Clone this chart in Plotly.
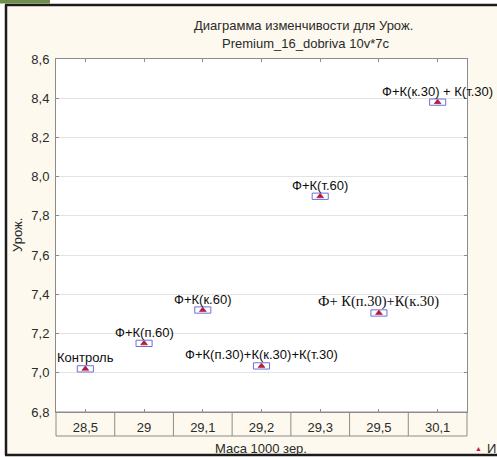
import plotly.graph_objects as go

# Mean yield per grain-mass group, with the fertilizer variant for each point
mass_groups = ["28,5", "29", "29,1", "29,2", "29,3", "29,5", "30,1"]
yield_means = [7.02, 7.15, 7.32, 7.035, 7.90, 7.305, 8.38]
variant_labels = [
    "Контроль",
    "Ф+К(п.60)",
    "Ф+К(к.60)",
    "Ф+К(п.30)+К(к.30)+К(т.30)",
    "Ф+К(т.60)",
    "Ф+ К(п.30)+К(к.30)",
    "Ф+К(к.30) + К(т.30)",
]
label_fonts = ["Liberation Sans"] * 5 + ["Liberation Serif", "Liberation Sans"]
y_ticks = [6.8, 7.0, 7.2, 7.4, 7.6, 7.8, 8.0, 8.2, 8.4, 8.6]

W, H = 497, 457
ML, MR, MT, MB = 56, 30, 59, 45
PW, PH = W - ML - MR, H - MT - MB
BOTTOM = H - MB

def px_x(px):
    return (px - ML) / PW

def px_y(py):
    return (BOTTOM - py) / PH

CREAM = "#fdf9ee"
GRID = "#e3e3e3"
AXIS = "#8c8c8c"
TXT = "#2a2a2a"
BOX = "#6f6fd8"
MARK = "#c3173b"

fig = go.Figure()
fig.add_trace(go.Scatter(
    x=list(range(len(mass_groups))), y=yield_means, mode="markers",
    marker=dict(symbol="triangle-up", size=6, color=MARK,
                line=dict(color="#8a1028", width=0.5)),
    showlegend=False, cliponaxis=False,
))

shapes = []
# white outside the dark frame
shapes.append(dict(type="rect", xref="paper", yref="paper", x0=px_x(0), x1=px_x(5),
                   y0=px_y(H), y1=px_y(0), fillcolor="white", line_width=0, layer="below"))
shapes.append(dict(type="rect", xref="paper", yref="paper", x0=px_x(0), x1=px_x(W),
                   y0=px_y(4), y1=px_y(0), fillcolor="white", line_width=0, layer="below"))
shapes.append(dict(type="rect", xref="paper", yref="paper", x0=px_x(0), x1=px_x(W),
                   y0=px_y(H), y1=px_y(455.5), fillcolor="white", line_width=0, layer="below"))
# green tab at top left
shapes.append(dict(type="rect", xref="paper", yref="paper", x0=px_x(0), x1=px_x(50),
                   y0=px_y(3.5), y1=px_y(0), fillcolor="#6f8e4c", line_width=0, layer="below"))
# dark frame
for (x0, y0, x1, y1) in [(5, 5, W, 5), (6, 5, 6, 455), (5, 455, W, 455)]:
    shapes.append(dict(type="line", xref="paper", yref="paper",
                       x0=px_x(x0), x1=px_x(x1), y0=px_y(y0), y1=px_y(y1),
                       line=dict(color="#1c1c1c", width=2.5)))
# category table under the plot
shapes.append(dict(type="rect", xref="paper", yref="paper", x0=0, x1=1,
                   y0=px_y(436), y1=0, line=dict(color=AXIS, width=1)))
for i in range(len(mass_groups) - 1):
    shapes.append(dict(type="line", xref="x", yref="paper", x0=i + 0.5, x1=i + 0.5,
                       y0=px_y(436), y1=0, line=dict(color=AXIS, width=1)))
# mean boxes
for i, v in enumerate(yield_means):
    shapes.append(dict(type="rect", xref="x", yref="y", x0=i - 0.137, x1=i + 0.137,
                       y0=v - 0.016, y1=v + 0.016, line=dict(color=BOX, width=1),
                       fillcolor="rgba(0,0,0,0)", layer="above"))

annotations = []
for i, (v, lab, fnt) in enumerate(zip(yield_means, variant_labels, label_fonts)):
    annotations.append(dict(x=i, y=v, xref="x", yref="y", text=lab,
                            xanchor="center", yanchor="middle",
                            showarrow=False, yshift=11,
                            font=dict(family=fnt, size=13 if fnt.endswith("Sans") else 14.5,
                                      color="#0d0d0d")))

def note(px, py, text, size=13, color=TXT, **kw):
    d = dict(x=px_x(px), y=px_y(py), xref="paper", yref="paper", text=text,
             showarrow=False, xanchor="center", yanchor="middle",
             font=dict(size=size, color=color))
    d.update(kw)
    return d

annotations += [
    note(303, 25, "Диаграмма изменчивости для Урож."),
    note(305, 43, "Premium_16_dobriva 10v*7c"),
    note(261, 448, "Маса 1000 зер."),
    note(17, 235, "Урож.", textangle=-90),
    note(478, 448, "▲", size=7, color=MARK),
    note(485, 448, "И", xanchor="left"),
]

fig.update_layout(
    width=W, height=H,
    margin=dict(l=ML, r=MR, t=MT, b=MB),
    paper_bgcolor=CREAM, plot_bgcolor="white",
    separators=", ",
    font=dict(family="Liberation Sans", size=13, color=TXT),
    shapes=shapes, annotations=annotations,
    xaxis=dict(range=[-0.5, len(mass_groups) - 0.5],
               tickvals=list(range(len(mass_groups))), ticktext=mass_groups,
               showline=True, linecolor=AXIS, linewidth=1, mirror="ticks",
               ticks="inside", ticklen=3, tickcolor=AXIS, showgrid=False, zeroline=False,
               ticklabelstandoff=3, tickfont=dict(size=13, color=TXT)),
    yaxis=dict(range=[6.8, 8.6], tickvals=y_ticks, tickformat=".1f",
               showline=True, linecolor=AXIS, linewidth=1, mirror="ticks",
               ticks="inside", ticklen=3, tickcolor=AXIS,
               showgrid=True, gridcolor=GRID, zeroline=False,
               ticklabelstandoff=3, tickfont=dict(size=13, color=TXT)),
)

fig.write_html("out.html")
